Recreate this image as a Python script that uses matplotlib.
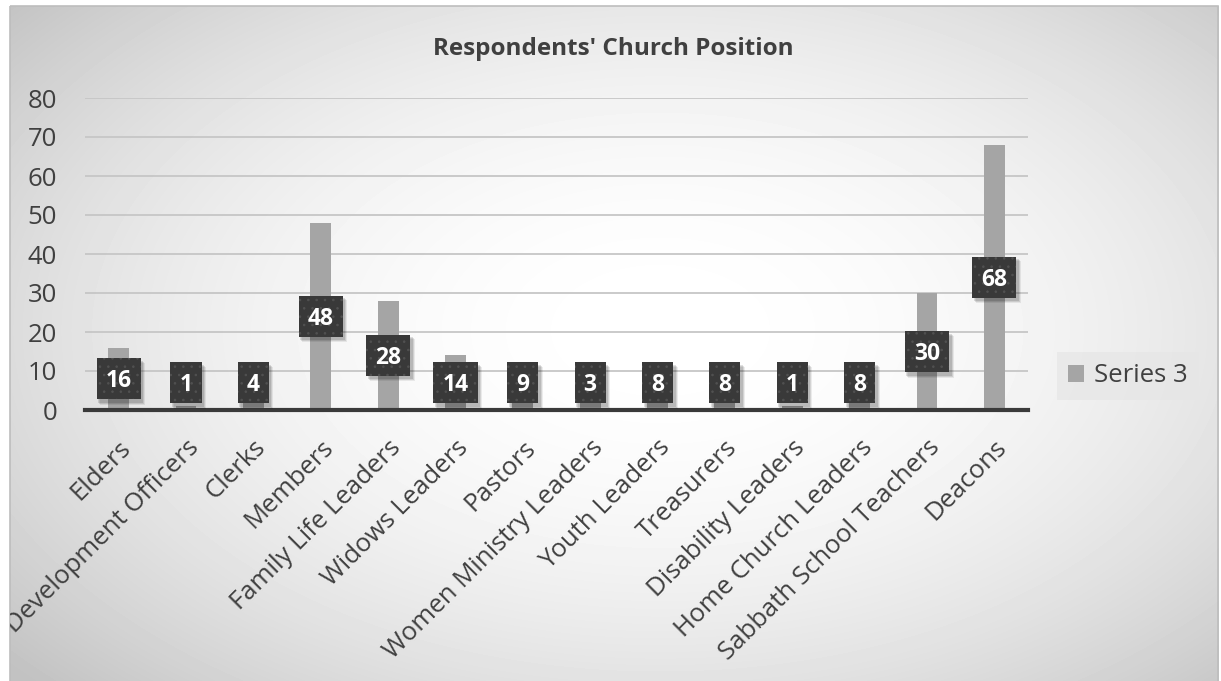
import numpy as np
import matplotlib
matplotlib.use("Agg")
import matplotlib.pyplot as plt
from matplotlib.patches import Rectangle
from matplotlib.transforms import IdentityTransform, ScaledTranslation, Bbox

categories = ["Elders", "Development Officers", "Clerks", "Members", "Family Life Leaders",
              "Widows Leaders", "Pastors", "Women Ministry Leaders", "Youth Leaders",
              "Treasurers", "Disability Leaders", "Home Church Leaders",
              "Sabbath School Teachers", "Deacons"]
values = [16, 1, 4, 48, 28, 14, 9, 3, 8, 8, 1, 8, 30, 68]
yticks = [0, 10, 20, 30, 40, 50, 60, 70, 80]
series_name = "Series 3"
title = "Respondents' Church Position"

W, H = 1221, 681
plt.rcParams['font.family'] = ['Open Sans', 'DejaVu Sans']
plt.rcParams['hatch.linewidth'] = 0.6
fig = plt.figure(figsize=(W / 100, H / 100), dpi=100)

# background: radial gradient inside frame
bg = fig.add_axes([0, 0, 1, 1], zorder=-10)
bg.set_xlim(0, W)
bg.set_ylim(H, 0)
bg.axis('off')
yy, xx = np.mgrid[0:H, 0:W]
r2 = ((xx - 660) / 700.0) ** 2 + ((yy - 330) / 420.0) ** 2
img = np.clip(1.0 - 0.16 * r2, 0.76, 1.0)
x0, x1, y0, y1 = 10, 1218, 6, 681
mask = (xx >= x0) & (xx <= x1) & (yy >= y0) & (yy <= y1)
img = np.where(mask, img, 1.0)
bg.imshow(img, cmap='gray', vmin=0, vmax=1, extent=(0, W, H, 0), interpolation='bilinear', aspect='auto')
bg.add_patch(Rectangle((x0, y0), x1 - x0, y1 - y0 + 5, fill=False, edgecolor='#bdbdbd', lw=1.2))

# plot area
left, right = 85 / W, 1028 / W
bottom, top = 1 - 410 / H, 1 - 98 / H
ax = fig.add_axes([left, bottom, right - left, top - bottom])
ax.patch.set_alpha(0)
x = np.arange(len(categories))
ax.bar(x, values, width=0.31, color='#a5a5a5', zorder=2, label=series_name)
ax.set_xlim(-0.5, len(categories) - 0.5)
ax.set_ylim(0, 80)
ax.set_yticks(yticks)
ax.set_yticklabels([str(t) for t in yticks], fontsize=18.5, color='#404040')
ax.yaxis.grid(True, color='#c6c6c6', lw=1.3, zorder=0)
ax.set_axisbelow(True)
for s in ['top', 'right', 'left']:
    ax.spines[s].set_visible(False)
ax.spines['bottom'].set_color('#3a3a3a')
ax.spines['bottom'].set_linewidth(3)
ax.spines['bottom'].set_zorder(3)
ax.tick_params(axis='y', length=0, pad=20)
ax.tick_params(axis='x', length=0, pad=18)
ax.set_xticks(x)
ax.set_xticklabels(categories, rotation=45, ha='right', rotation_mode='anchor',
                   fontsize=18.5, color='#404040')
clipbox = Bbox.from_extents(x0, 0, x1, H - y0)
for lab in ax.get_xticklabels():
    lab.set_clip_on(True)
    lab.set_clip_box(clipbox)

# data labels (boxes drawn in pixel space derived from the data transform)
fig.canvas.draw()
renderer = fig.canvas.get_renderer()
ident = IdentityTransform()
fs_lab = 16.5
cap_px = 0.714 * fs_lab * 100 / 72
box_h = 41
min_center = ax.transData.transform((0, 0))[1] + 7 + box_h / 2
for xi, v in zip(x, values):
    cx, cy = ax.transData.transform((xi, v / 2.0))
    cy = max(cy, min_center)
    t = fig.text(cx, cy - cap_px / 2, str(v), transform=ident, ha='center', va='baseline',
                 fontsize=fs_lab, fontweight='bold', color='white', zorder=12)
    tw = t.get_window_extent(renderer).width
    bw = tw + 18
    bx, by = cx - bw / 2, cy - box_h / 2
    for k, a in [(4.5, 0.07), (3.5, 0.1), (2.5, 0.12)]:
        sh = Rectangle((bx + k - 1, by - k - 1), bw + 1, box_h + 1, transform=ident,
                       facecolor='black', alpha=a, lw=0, zorder=10)
        fig.add_artist(sh)
    box = Rectangle((bx, by), bw, box_h, transform=ident, facecolor='#393939',
                    edgecolor='#515151', hatch='..', lw=0, zorder=11)
    fig.add_artist(box)

# title
fig.text(613 / W, 1 - 55 / H, title, ha='center', va='baseline', fontsize=17.5,
         fontweight='bold', color='#404040')

# legend
leg = fig.legend(loc='center', bbox_to_anchor=(1128 / W, 1 - 376 / H), fontsize=18.5,
                 frameon=True, fancybox=False, handlelength=0.6, handleheight=0.6,
                 handletextpad=0.4, borderpad=0.45, labelcolor='#404040')
leg.get_frame().set_facecolor('#e6e6e6')
leg.get_frame().set_edgecolor('none')
leg.get_frame().set_alpha(0.7)

fig.savefig('out.png', dpi=100)
